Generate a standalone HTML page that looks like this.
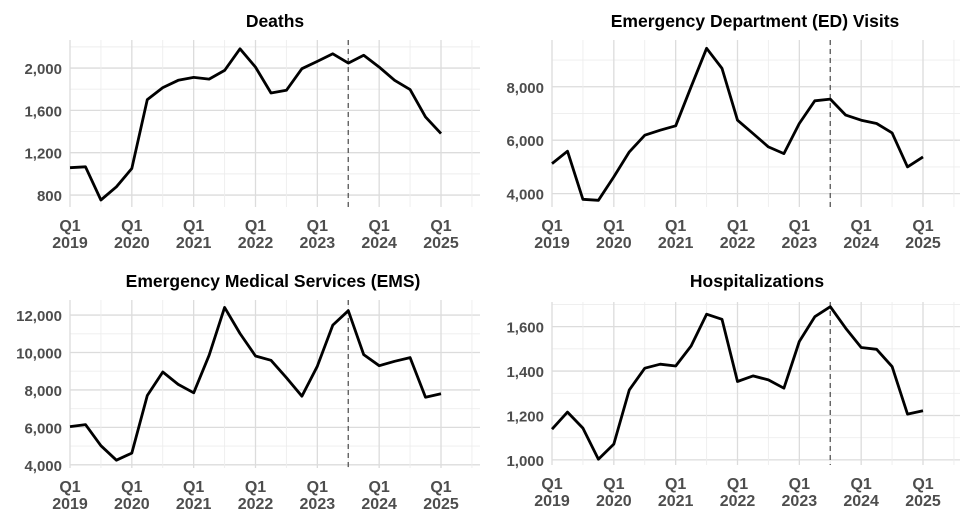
<!DOCTYPE html>
<html><head><meta charset="utf-8"><style>
html,body{margin:0;padding:0;background:#fff;}
svg{display:block;font-family:"Liberation Sans",Arial,sans-serif;}
.tick{fill:#4d4d4d;font-weight:bold;font-size:16px;}
.ytick{fill:#4d4d4d;font-weight:bold;font-size:15px;}
.title{fill:#000;font-weight:bold;font-size:17.5px;}
</style></head><body>
<svg id="chart" width="975" height="519"></svg>
<script>
const quarters = 25; // Q1 2019 .. Q1 2025
const xTickLabels = ["2019","2020","2021","2022","2023","2024","2025"];
const deathsValues = [1058,1067,753,878,1051,1702,1815,1884,1912,1896,1978,2182,2009,1764,1790,1994,2063,2135,2047,2120,2009,1884,1796,1538,1381];
const edValues = [5125,5588,3788,3750,4625,5563,6188,6375,6538,8000,9438,8688,6750,6250,5750,5500,6625,7475,7538,6938,6750,6625,6275,5000,5375];
const emsValues = [6040,6147,5019,4249,4625,7704,8957,8295,7847,9852,12412,11016,9816,9583,8653,7668,9261,11463,12233,9888,9297,9530,9727,7614,7794];
const hospValues = [1138,1215,1143,1003,1071,1315,1413,1431,1423,1513,1656,1633,1353,1378,1360,1323,1533,1645,1690,1593,1506,1498,1420,1206,1221];
const deathsTicks = [800,1200,1600,2000];
const edTicks = [4000,6000,8000];
const emsTicks = [4000,6000,8000,10000,12000];
const hospTicks = [1000,1200,1400,1600];
const dashedQuarter = 18; // Q3 2023

const NS="http://www.w3.org/2000/svg";
const svg=document.getElementById('chart');
function mk(tag,attrs,parent){const e=document.createElementNS(NS,tag);for(const k in attrs)e.setAttribute(k,attrs[k]);(parent||svg).appendChild(e);return e;}

const panels=[
 {name:"deaths",title:"Deaths",tx:275,ty:27,x0:70,x1:480,xq0:70,xq24:441,top:40,bot:207,vmin:687,vmax:2265,vals:deathsValues,ticks:deathsTicks,minor:200,labX:62},
 {name:"ed-visits",title:"Emergency Department (ED) Visits",tx:755,ty:27,x0:552,x1:960,xq0:552,xq24:923,top:40,bot:207,vmin:3500,vmax:9750,vals:edValues,ticks:edTicks,minor:1000,labX:544},
 {name:"ems",title:"Emergency Medical Services (EMS)",tx:273,ty:287,x0:70,x1:480,xq0:70,xq24:441,top:300,bot:468,vmin:3830,vmax:12805,vals:emsValues,ticks:emsTicks,minor:1000,labX:62},
 {name:"hospitalizations",title:"Hospitalizations",tx:757,ty:287,x0:552,x1:960,xq0:552,xq24:923,top:302,bot:465,vmin:977,vmax:1711,vals:hospValues,ticks:hospTicks,minor:100,labX:544}
];

panels.forEach(p=>{
 const g=mk('g',{});
 
 
 const xs=i=>p.xq0+(p.xq24-p.xq0)*i/24;
 const ys=v=>p.bot-(v-p.vmin)/(p.vmax-p.vmin)*(p.bot-p.top);
 const t=mk('text',{x:p.tx,y:p.ty,'text-anchor':'middle',class:'title'},g);
 t.textContent=p.title;
 
 
 const step=p.minor;
 for(let v=Math.ceil(p.vmin/step)*step; v<=p.vmax; v+=step){
   const isMajor=p.ticks.indexOf(v)>=0;
   mk('line',{x1:p.x0,x2:p.x1,y1:ys(v),y2:ys(v),stroke:isMajor?'#dcdcdc':'#ededed','stroke-width':isMajor?1.3:0.9},g);
 }
 for(let i=0;i<=26;i+=2){
   const x=xs(i); if(x>p.x1+1) continue;
   const isMajor=i%4===0;
   mk('line',{x1:x,x2:x,y1:p.top,y2:p.bot,stroke:isMajor?'#dcdcdc':'#ededed','stroke-width':isMajor?1.3:0.9},g);
 }
 p.ticks.forEach(v=>{
   const lt=mk('text',{x:p.labX,y:ys(v)+6,'text-anchor':'end',class:'ytick'},g);
   lt.textContent=v.toLocaleString('en-US');
   
   
 });
 xTickLabels.forEach((yr,k)=>{
   const x=xs(k*4);
   const a=mk('text',{x:x,y:p.bot+24,'text-anchor':'middle',class:'tick'},g);a.textContent="Q1";
   
   
   const b=mk('text',{x:x,y:p.bot+41,'text-anchor':'middle',class:'tick'},g);b.textContent=yr;
   
   
 });
 const dl=mk('line',{x1:xs(dashedQuarter),x2:xs(dashedQuarter),y1:p.top,y2:p.bot,stroke:'#555','stroke-width':1.3,'stroke-dasharray':'5,4'},g);
 
 
 const d=p.vals.map((v,i)=>(i?'L':'M')+xs(i).toFixed(1)+','+ys(v).toFixed(1)).join(' ');
 const path=mk('path',{d:d,fill:'none',stroke:'#000','stroke-width':2.8,'stroke-linejoin':'round'},g);
 
 
});
</script>
</body></html>
